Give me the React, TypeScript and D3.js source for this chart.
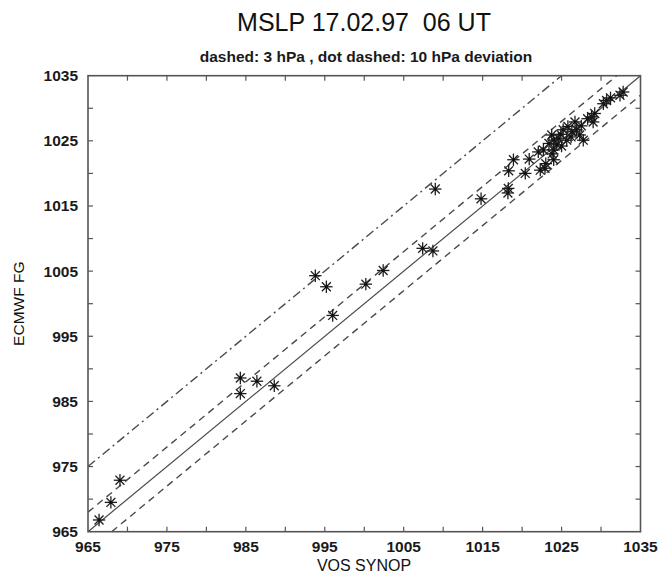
import React from "react";
import * as d3 from "d3";

// ---- data (VOS SYNOP vs ECMWF FG, MSLP hPa) ----
const vosSynop = [
  966.4, 967.9, 969.05, 984.3, 984.3, 986.4, 988.6,
  993.8, 995.2, 996.0, 1000.2, 1002.4, 1007.4, 1008.7, 1009.0, 1014.8,
  1018.25, 1018.2, 1018.3, 1018.9, 1020.4, 1020.9, 1022.3, 1022.9, 1022.05, 1022.7,
  1024.0, 1024.0, 1024.0, 1023.75, 1024.6, 1024.4, 1025.2, 1025.65, 1026.7, 1026.9,
  1027.3, 1027.75, 1026.3, 1028.8, 1029.2, 1029.0, 1030.3, 1030.7, 1032.4, 1032.8,
  1023.0, 1025.0, 1027.5, 1023.4, 1024.9, 1025.8, 1026.2, 1023.8, 1028.3, 1031.2,
];
const ecmwfFg = [
  966.8, 969.5, 972.9, 986.2, 988.6, 988.1, 987.4,
  1004.3, 1002.6, 998.2, 1003.0, 1005.1, 1008.5, 1008.1, 1017.6, 1016.1,
  1017.7, 1017.0, 1020.4, 1022.1, 1020.0, 1022.2, 1020.5, 1020.8, 1023.3, 1023.6,
  1022.1, 1023.6, 1025.1, 1025.9, 1025.4, 1024.4, 1026.7, 1025.1, 1027.9, 1026.7,
  1025.9, 1025.1, 1026.4, 1028.7, 1029.2, 1027.9, 1030.7, 1031.2, 1032.0, 1032.5,
  1021.5, 1024.2, 1027.3, 1024.6, 1026.0, 1027.2, 1025.6, 1023.0, 1028.4, 1031.6,
];
const axisDomain = [965, 1035];
const labelTicks = [965, 975, 985, 995, 1005, 1015, 1025, 1035];
const minorTicks = [970, 975, 980, 985, 990, 995, 1000, 1005, 1010, 1015, 1020, 1025, 1030];
const dashedOffsets = [3, -3];
const dotDashedOffsets = [10];

const titleText = "MSLP 17.02.97  06 UT";
const subtitleText = "dashed: 3 hPa , dot dashed: 10 hPa deviation";
const xTitle = "VOS SYNOP";
const yTitle = "ECMWF FG";

export default function App() {
  const W = 659, H = 573;
  const left = 88, right = 640.5, top = 75.7, bottom = 531.7;
  const x = d3.scaleLinear().domain(axisDomain).range([left, right]);
  const y = d3.scaleLinear().domain(axisDomain).range([bottom, top]);
  const font = "'Liberation Sans', Arial, Helvetica, sans-serif";
  const lineColor = "#4a4a4a";

  // line y = x + off clipped to domain
  const seg = (off: number) => {
    const lo = axisDomain[0], hi = axisDomain[1];
    const x0 = Math.max(lo, lo - off);
    const x1 = Math.min(hi, hi - off);
    return { x1: x(x0), y1: y(x0 + off), x2: x(x1), y2: y(x1 + off) };
  };

  const tickLen = 5;
  const r = 6.2;
  const rd = r * 0.72;

  return (
    <svg width={W} height={H} style={{ position: "fixed", left: 0, top: 0, background: "#fff" }}>
      <rect x={0} y={0} width={W} height={H} fill="#fff" />
      <text x={364} y={31} textAnchor="middle" fontFamily={font} fontSize={25} fill="#111" style={{ whiteSpace: "pre" }}>
        {titleText}
      </text>
      <text x={366} y={62} textAnchor="middle" fontFamily={font} fontSize={15.5} fontWeight="bold" fill="#1a1a1a">
        {subtitleText}
      </text>

      {/* reference lines */}
      {(() => {
        const s = seg(0);
        return <line {...s} stroke={lineColor} strokeWidth={1.2} />;
      })()}
      {dashedOffsets.map((o) => (
        <line key={"d" + o} {...seg(o)} stroke={lineColor} strokeWidth={1.4} strokeDasharray="7,5" />
      ))}
      {dotDashedOffsets.map((o) => (
        <line key={"dd" + o} {...seg(o)} stroke={lineColor} strokeWidth={1.4} strokeDasharray="9,4,2,4" />
      ))}

      {/* points */}
      {vosSynop.map((v, i) => {
        const cx = x(v), cy = y(ecmwfFg[i]);
        return (
          <g key={i} stroke="#1e1e1e" strokeWidth={1.3}>
            <line x1={cx - r} y1={cy} x2={cx + r} y2={cy} />
            <line x1={cx} y1={cy - r} x2={cx} y2={cy + r} />
            <line x1={cx - rd} y1={cy - rd} x2={cx + rd} y2={cy + rd} />
            <line x1={cx - rd} y1={cy + rd} x2={cx + rd} y2={cy - rd} />
            <circle cx={cx} cy={cy} r={1.6} fill="#111" stroke="none" />
          </g>
        );
      })}

      {/* frame */}
      <rect x={left} y={top} width={right - left} height={bottom - top} fill="none" stroke="#555" strokeWidth={1.6} />

      {/* ticks on all sides */}
      {minorTicks.map((t) => (
        <g key={"t" + t} stroke="#555" strokeWidth={1.2}>
          <line x1={x(t)} y1={bottom} x2={x(t)} y2={bottom - tickLen} />
          <line x1={x(t)} y1={top} x2={x(t)} y2={top + tickLen} />
          <line x1={left} y1={y(t)} x2={left + tickLen} y2={y(t)} />
          <line x1={right} y1={y(t)} x2={right - tickLen} y2={y(t)} />
        </g>
      ))}

      {/* tick labels */}
      {labelTicks.map((t) => (
        <text key={"xl" + t} x={x(t)} y={552} textAnchor="middle" fontFamily={font} fontSize={15.5} fontWeight="bold" fill="#1a1a1a">
          {t}
        </text>
      ))}
      {labelTicks.map((t) => (
        <text key={"yl" + t} x={78} y={y(t) + 5.5} textAnchor="end" fontFamily={font} fontSize={15.5} fontWeight="bold" fill="#1a1a1a">
          {t}
        </text>
      ))}

      <text x={364} y={571} textAnchor="middle" fontFamily={font} fontSize={16} fill="#111">
        {xTitle}
      </text>
      <text transform={`translate(24,${(top + bottom) / 2}) rotate(-90)`} textAnchor="middle" fontFamily={font} fontSize={15.5} fill="#111">
        {yTitle}
      </text>
    </svg>
  );
}
